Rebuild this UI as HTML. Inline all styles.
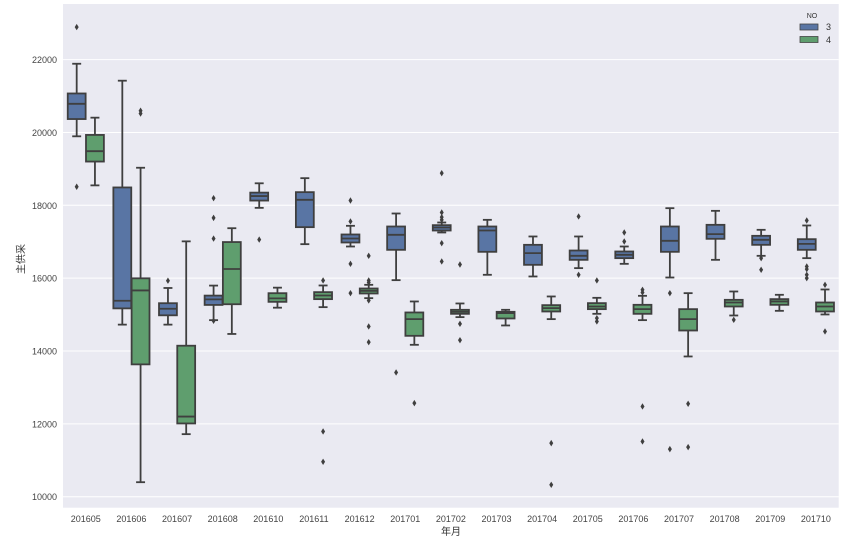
<!DOCTYPE html>
<html><head><meta charset="utf-8"><style>
html,body{margin:0;padding:0;background:#fff;}
svg{display:block;font-family:"Liberation Sans","Noto Sans CJK SC",sans-serif;}
</style></head><body>
<svg id="chart" width="868" height="541" xmlns="http://www.w3.org/2000/svg">
<rect x="63" y="4" width="775.7" height="503.7" fill="#eaeaf2"/>
<g id="grid"></g>
<g id="yticks"></g>
<g id="xticks"></g>
<g id="boxes"></g>
<text x="22" y="259" transform="rotate(-90 22 259)" text-anchor="middle" dominant-baseline="middle" font-size="10" fill="#333">主供采</text>
<text x="451" y="535" text-anchor="middle" font-size="10" fill="#333">年月</text>
<g>
<text x="812" y="18" text-anchor="middle" font-size="7" fill="#333">NO</text>
<rect x="800" y="24" width="18" height="6" fill="#5975a4" stroke="#444" stroke-width="0.8"/>
<text x="826" y="30" font-size="9" fill="#333">3</text>
<rect x="800" y="36.5" width="18" height="6" fill="#5f9e6e" stroke="#444" stroke-width="0.8"/>
<text x="826" y="43" font-size="9" fill="#333">4</text>
</g>
</svg>
<script>
const categories=["201605","201606","201607","201608","201610","201611","201612","201701","201702","201703","201704","201705","201706","201707","201708","201709","201710"];
const yTicks=[10000,12000,14000,16000,18000,20000,22000];
// each stat: [lowWhisker, q1, median, q3, highWhisker]
const series3Stats=[
[19894,20368,20786,21070,21886],[14724,15170,15379,18490,21421],[14724,14980,15160,15312,15730],[14847,15265,15417,15521,15796],
[17930,18130,18253,18348,18604],[16933,17400,18150,18361,18745],[16869,16979,17089,17199,17437],[15945,16778,17190,17418,17775],
[17254,17308,17391,17455,17528],[16092,16723,17308,17418,17601],[16046,16366,16686,16915,17144],[16275,16503,16613,16759,17144],
[16393,16549,16641,16732,16869],[16018,16723,17025,17418,17921],[16503,17080,17208,17464,17848],[16613,16915,17052,17162,17327],
[16549,16778,16942,17070,17446]];
const series3Outliers=[[22892,18509],[],[15929],[18196,17655,17086,14830],[17058],[],[18132,17556,16393,15588],[13411],
[18882,17803,17675,17601,16961,16458],[],[],[17693,16092],[17253,17006],[15588,11306],[],[16549,16229],[17583,16320,16247,16092,16000]];
const series4Stats=[
[18547,19201,19486,19932,20406],[10398,13633,15663,15995,19031],[11717,12011,12200,14145,17010],[14468,15284,16251,16991,17371],
[15189,15350,15445,15587,15739],[15204,15424,15524,15616,15799],[15451,15579,15652,15716,15817],[14170,14417,14875,15058,15360],
[14930,15021,15076,15131,15305],[14701,14893,15039,15076,15131],[14875,15085,15177,15259,15497],[15021,15149,15222,15314,15460],
[14847,15021,15149,15268,15515],[13850,14563,14875,15149,15588],[14975,15222,15332,15405,15634],[15103,15268,15360,15424,15543],
[15003,15085,15222,15332,15689]];
const series4Outliers=[[],[20596,20520],[],[],[],[15936,11791,10958],[16613,15936,15881,15387,14673,14243],[12569],
[16375,14746,14298],[],[11471,10327],[15936,14902,14811],[15680,15607,12477,11516],[12551,11361],[14856],[],[15817,14536]];

const NS="http://www.w3.org/2000/svg";
const L=63,R=838.7,T=4,B=507.7;
const step=(R-L)/categories.length;
function yScale(v){return 496.7-(v-10000)*0.036425;}
function xCenter(i){return L+step*(i+0.5);}
function mk(tag,attrs,parent){const e=document.createElementNS(NS,tag);for(const k in attrs)e.setAttribute(k,attrs[k]);parent.appendChild(e);return e;}
const grid=document.getElementById('grid'),yt=document.getElementById('yticks'),xt=document.getElementById('xticks'),bx=document.getElementById('boxes');
yTicks.forEach(v=>{
  const g=mk('line',{x1:L,x2:R,y1:yScale(v),y2:yScale(v),stroke:'#fff','stroke-width':1},grid);
  
  
  const t=mk('text',{x:57,y:yScale(v)+3.5,'text-anchor':'end','font-size':9,fill:'#444'},yt);
  t.textContent=v;
  
  
});
categories.forEach((c,i)=>{
  const t=mk('text',{x:xCenter(i),y:522,'text-anchor':'middle','font-size':9,fill:'#444'},xt);
  t.textContent=c;
  
  
});
const bw=step*0.8/2;
function drawBox(i,st,outs,off,color,nm){
  const cx=xCenter(i)+off;
  const g=mk('g',{},bx);
  
  
  const lc='#3f3f3f',sw=1.8,w=bw*0.98;
  mk('line',{x1:cx,x2:cx,y1:yScale(st[0]),y2:yScale(st[1]),stroke:lc,'stroke-width':sw},g);
  mk('line',{x1:cx,x2:cx,y1:yScale(st[3]),y2:yScale(st[4]),stroke:lc,'stroke-width':sw},g);
  mk('line',{x1:cx-w/4,x2:cx+w/4,y1:yScale(st[0]),y2:yScale(st[0]),stroke:lc,'stroke-width':sw},g);
  mk('line',{x1:cx-w/4,x2:cx+w/4,y1:yScale(st[4]),y2:yScale(st[4]),stroke:lc,'stroke-width':sw},g);
  mk('rect',{x:cx-w/2,y:yScale(st[3]),width:w,height:Math.max(1,yScale(st[1])-yScale(st[3])),fill:color,stroke:lc,'stroke-width':sw},g);
  mk('line',{x1:cx-w/2,x2:cx+w/2,y1:yScale(st[2]),y2:yScale(st[2]),stroke:lc,'stroke-width':sw},g);
  outs.forEach(v=>{
    const y=yScale(v);
    const d=mk('path',{d:`M${cx} ${y-3.2} L${cx+2} ${y} L${cx} ${y+3.2} L${cx-2} ${y} Z`,fill:lc},g);
    
    
  });
}
categories.forEach((c,i)=>{
  drawBox(i,series3Stats[i],series3Outliers[i],-bw/2,'#5975a4','box-no3');
  drawBox(i,series4Stats[i],series4Outliers[i],bw/2,'#5f9e6e','box-no4');
});
</script>
</body></html>
